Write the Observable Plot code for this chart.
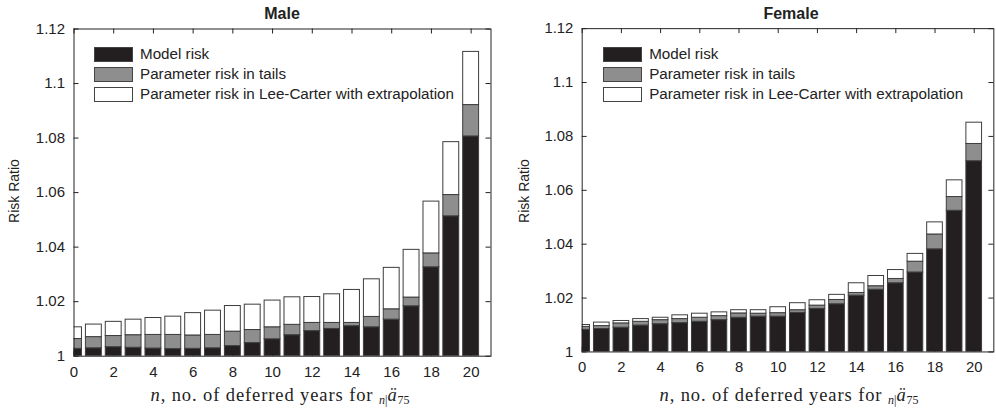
<!DOCTYPE html>
<html>
<head>
<meta charset="utf-8">
<script src="https://cdn.jsdelivr.net/npm/d3@7"></script>
<script src="https://cdn.jsdelivr.net/npm/@observablehq/plot@0.6"></script>
<style>
  html, body { margin: 0; padding: 0; background: white; overflow: hidden; }
  #wrap { position: relative; width: 996px; height: 414px; overflow: hidden; font-family: "Liberation Sans", Arial, sans-serif; color: #222; }
  .panel { position: absolute; top: 0; }
  .title { position: absolute; top: 5px; font-weight: bold; font-size: 16px; transform: translateX(-50%); white-space: nowrap; }
  .ylab { position: absolute; font-size: 14px; transform: translate(-50%, -50%) rotate(-90deg); white-space: nowrap; }
  .xlab { position: absolute; top: 385px; font-family: "Liberation Serif", "DejaVu Serif", serif; font-size: 18.5px; letter-spacing: 0.9px; transform: translateX(-50%); white-space: nowrap; }
  .xlab sub { font-size: 12px; vertical-align: -3px; line-height: 0; letter-spacing: 0; }
  .legend { position: absolute; font-size: 15.2px; }
  .legend .row { position: absolute; left: 0; height: 15px; white-space: nowrap; }
  .legend .sw { position: absolute; left: 0; top: 0; width: 37px; height: 13px; border: 1px solid #444; }
  .legend .tx { position: absolute; left: 46px; top: -2px; line-height: 17px; }
</style>
</head>
<body>
<div id="wrap"></div>
<script>
// ---- data ----
const years = [0,1,2,3,4,5,6,7,8,9,10,11,12,13,14,15,16,17,18,19,20];
const layers = ["Model risk", "Parameter risk in tails", "Parameter risk in Lee-Carter with extrapolation"];
const layerColors = ["#231f20", "#8e8e8e", "#ffffff"];

// cumulative tops of each stacked segment (risk ratio)
const maleModel = [1.0027,1.0029,1.0033,1.0031,1.0028,1.0026,1.0027,1.0029,1.0037,1.0048,1.0062,1.0077,1.0092,1.0100,1.0110,1.0106,1.0134,1.0183,1.0326,1.0513,1.0806];
const maleTails = [1.0063,1.0070,1.0074,1.0077,1.0078,1.0078,1.0076,1.0078,1.0090,1.0096,1.0106,1.0115,1.0122,1.0122,1.0122,1.0144,1.0172,1.0215,1.0377,1.0591,1.0921];
const maleLC    = [1.0106,1.0116,1.0126,1.0134,1.0140,1.0145,1.0158,1.0167,1.0184,1.0189,1.0204,1.0216,1.0217,1.0227,1.0243,1.0282,1.0324,1.0390,1.0567,1.0785,1.1116];

const femaleModel = [1.0082,1.0085,1.0090,1.0098,1.0103,1.0107,1.0112,1.0118,1.0127,1.0131,1.0131,1.0145,1.0160,1.0177,1.0209,1.0231,1.0255,1.0295,1.0381,1.0524,1.0708];
const femaleTails = [1.0093,1.0096,1.0106,1.0112,1.0118,1.0122,1.0127,1.0133,1.0143,1.0142,1.0144,1.0155,1.0172,1.0193,1.0219,1.0244,1.0271,1.0335,1.0436,1.0575,1.0772];
const femaleLC    = [1.0100,1.0109,1.0115,1.0122,1.0127,1.0136,1.0142,1.0147,1.0155,1.0155,1.0166,1.0181,1.0192,1.0212,1.0255,1.0282,1.0304,1.0364,1.0481,1.0637,1.0851];

const xTicks = [0,2,4,6,8,10,12,14,16,18,20];
const yTicks = [1,1.02,1.04,1.06,1.08,1.1,1.12];
const xDomain = [0, 21];
const yDomain = [1, 1.12];
const halfBar = 0.4;

function segments(model, tails, lc) {
  const rows = [];
  years.forEach((n, i) => {
    rows.push({n, lo: 1, hi: model[i], layer: layers[0]});
    rows.push({n, lo: model[i], hi: tails[i], layer: layers[1]});
    rows.push({n, lo: tails[i], hi: lc[i], layer: layers[2]});
  });
  return rows;
}

function makePanel({left, width, mLeft, mRight, title, model, tails, lc, ylabX}) {
  const H = 414, mTop = 28.5, mBottom = 58.3;
  const frameH = H - mTop - mBottom;
  const frameW = width - mLeft - mRight;
  const tick = 5;
  const svg = Plot.plot({
    width, height: H,
    marginLeft: mLeft, marginRight: mRight, marginTop: mTop, marginBottom: mBottom,
    style: {fontFamily: "'Liberation Sans', Arial, sans-serif", fontSize: "15px", color: "#222", background: "transparent", overflow: "visible"},
    x: {domain: xDomain, ticks: xTicks},
    y: {domain: yDomain, ticks: yTicks},
    color: {domain: layers, range: layerColors},
    marks: [
      Plot.rectY(segments(model, tails, lc), {
        x1: d => d.n - halfBar, x2: d => d.n + halfBar,
        y1: "lo", y2: "hi", fill: "layer",
        stroke: "#3c3c3c", strokeWidth: 1, clip: true
      }),
      Plot.ruleX(xTicks, {x: d => d, insetTop: frameH - tick, stroke: "#222"}),
      Plot.ruleX(xTicks, {x: d => d, insetBottom: frameH - tick, stroke: "#222"}),
      Plot.ruleY(yTicks, {y: d => d, insetRight: frameW - tick, stroke: "#222"}),
      Plot.ruleY(yTicks, {y: d => d, insetLeft: frameW - tick, stroke: "#222"}),
      Plot.axisX(xTicks, {tickSize: 0, tickPadding: 10, label: null, fontSize: 15}),
      Plot.axisY(yTicks, {tickSize: 0, tickPadding: 9, label: null, fontSize: 15,
        tickFormat: d => String(+d.toFixed(2))}),
      Plot.frame({stroke: "#222", strokeWidth: 1})
    ]
  });
  const div = document.createElement("div");
  div.className = "panel";
  div.style.left = left + "px";
  div.appendChild(svg);
  const wrap = document.getElementById("wrap");
  wrap.appendChild(div);

  const fx0 = left + mLeft, fx1 = left + width - mRight;
  const cx = (fx0 + fx1) / 2;

  const t = document.createElement("div");
  t.className = "title"; t.style.left = cx + "px"; t.textContent = title;
  wrap.appendChild(t);

  const yl = document.createElement("div");
  yl.className = "ylab"; yl.style.left = ylabX + "px"; yl.style.top = "191px";
  yl.textContent = "Risk Ratio";
  wrap.appendChild(yl);

  const xl = document.createElement("div");
  xl.className = "xlab"; xl.style.left = (cx - 2) + "px";
  xl.innerHTML = '<i>n</i>, no. of deferred years for <sub><i>n</i>|</sub><i>ä</i><sub>75</sub>';
  wrap.appendChild(xl);

  const lg = document.createElement("div");
  lg.className = "legend";
  lg.style.left = (fx0 + 20.5) + "px"; lg.style.top = "46.5px";
  layers.forEach((name, i) => {
    const r = document.createElement("div");
    r.className = "row"; r.style.top = (i * 20.3) + "px";
    r.innerHTML = `<span class="sw" style="background:${layerColors[i]}"></span><span class="tx">${name}</span>`;
    lg.appendChild(r);
  });
  wrap.appendChild(lg);
}

makePanel({left: 0, width: 498, mLeft: 73.5, mRight: 7.5, title: "Male",
  model: maleModel, tails: maleTails, lc: maleLC, ylabX: 14});
makePanel({left: 498, width: 504, mLeft: 84.7, mRight: 2.7, title: "Female",
  model: femaleModel, tails: femaleTails, lc: femaleLC, ylabX: 524});
</script>
</body>
</html>
